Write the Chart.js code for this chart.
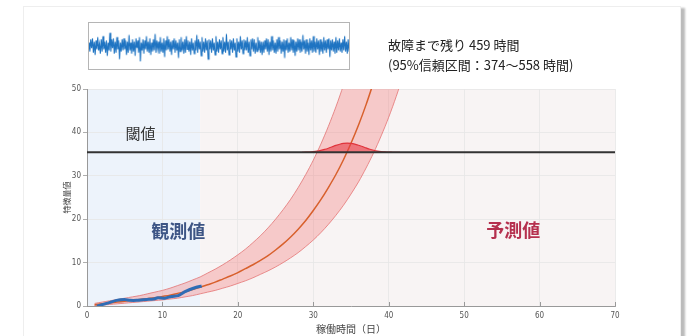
<!DOCTYPE html>
<html>
<head>
<meta charset="utf-8">
<script src="https://cdn.jsdelivr.net/npm/chart.js@4"></script>
<style>
  html, body { margin: 0; padding: 0; background: #fff; }
  body { width: 687px; height: 336px; position: relative; overflow: hidden; font-family: "Noto Sans CJK JP", "Noto Sans", sans-serif; }
  #card { position: absolute; left: 23px; top: 6px; width: 656px; height: 340px; border: 1px solid #eee; box-shadow: 4px 2px 2px #bbb; background: #fff; }
  #main { position: absolute; left: 0; top: 0; }
  #inset { position: absolute; left: 88px; top: 22px; border: 1px solid #b5b5b5; }
  .note { position: absolute; left: 388px; color: #222; font-size: 13px; white-space: nowrap; }
</style>
</head>
<body>
<div id="card"></div>
<canvas id="main" width="687" height="336"></canvas>
<canvas id="inset" width="262" height="48"></canvas>
<div class="note" style="top:35px;">故障まで残り 459 時間</div>
<div class="note" style="top:55px;">(95%信頼区間：374～558 時間)</div>
<script>
// ---- data ----
const X_TICKS = [0, 10, 20, 30, 40, 50, 60, 70];
const THRESHOLD = 35.4;

// observed feature value (days, value)
const obsX = [1.3, 2.6, 3.9, 5.0, 5.7, 6.6, 7.9, 8.8, 9.4, 10.3, 11.2, 12.1, 13.0, 14.1, 15.2];
const obsY = [0.0, 0.6, 1.3, 1.5, 1.3, 1.3, 1.5, 1.6, 1.9, 1.8, 2.2, 2.4, 3.3, 4.1, 4.6];

// predicted trend and 95% band
const predX = [1, 2, 3, 4, 5, 6, 7, 8, 9, 10, 11, 12, 13, 14, 15, 16, 17, 18, 19, 20, 21,
               22, 23, 24, 25, 26, 27, 28, 29, 30, 31, 32, 33, 34, 35, 36, 37, 38];
const predY = [0.3, 0.5, 0.7, 0.9, 1.1, 1.3, 1.5, 1.7, 1.9, 2.2, 2.5, 2.9, 3.3, 3.8, 4.3, 4.9, 5.5,
               6.2, 6.9, 7.7, 8.6, 9.5, 10.5, 11.6, 12.9, 14.3, 15.9, 17.7, 19.7, 22.0, 24.5, 27.3,
               30.3, 33.7, 37.5, 41.7, 46.4, 51.6];

const bandX = [1, 2, 3, 4, 5, 6, 7, 8, 9, 10, 11, 12, 13, 14, 15, 16, 17, 18, 19, 20, 21,
               22, 23, 24, 25, 26, 27, 28, 29, 30, 31, 32, 33, 34, 35, 36, 37, 38, 39, 40, 41, 42];
const bandUpper = [0.6, 0.9, 1.2, 1.5, 1.8, 2.1, 2.4, 2.8, 3.2, 3.6, 4.1, 4.7, 5.3, 6.0, 6.7, 7.6,
                   8.5, 9.5, 10.6, 11.8, 13.1, 14.6, 16.2, 18.0, 20.0, 22.2, 24.6, 27.3, 30.3, 33.6,
                   37.3, 41.4, 45.9, 50.9, 56.5, 62.7, 69.6, 77.3, 85.8, 95.2, 105.7, 117.3];
const bandLower = [0.1, 0.2, 0.35, 0.5, 0.65, 0.8, 0.95, 1.1, 1.25, 1.4, 1.6, 1.8, 2.1, 2.4, 2.8,
                   3.2, 3.6, 4.1, 4.6, 5.2, 5.8, 6.5, 7.3, 8.1, 9.0, 10.0, 11.1, 12.3, 13.7, 15.2,
                   16.9, 18.8, 20.9, 23.2, 25.8, 28.6, 31.8, 35.3, 39.2, 43.5, 48.3, 53.6];

// failure time distribution drawn on the threshold
const distX = [28.5, 29, 29.5, 30, 30.5, 31, 31.5, 32, 32.5, 33, 33.5, 34, 34.5, 35, 35.5, 36,
               36.5, 37, 37.5, 38, 38.5, 39, 39.5, 40, 40.5, 41, 41.5];
const distY = [35.42, 35.44, 35.48, 35.56, 35.68, 35.85, 36.08, 36.36, 36.68, 37.0, 37.28, 37.48,
               37.55, 37.48, 37.3, 37.04, 36.74, 36.42, 36.12, 35.88, 35.7, 35.58, 35.5, 35.45,
               35.43, 35.41, 35.4];

// vibration signal in the inset
const signal = [
  3,-5,6,-2,7,-6,4,-8,5,-3, 8,-4,2,-7,6,-5,9,-3,4,-6,
  5,-9,3,-4,12,-5,6,-2,7,-7, 4,-6,8,-3,5,-12,3,-5,6,-4,
  7,-3,5,-8,4,-6,10,-4,3,-7, 6,-5,4,-9,7,-2,5,-6,8,-14,
  3,-4,6,-7,5,-3,9,-5,4,-6, 7,-8,3,-5,6,-4,11,-6,5,-3,
  4,-7,8,-5,3,-6,7,-10,5,-4, 9,-3,6,-5,4,-8,5,-3,7,-6,
  5,-4,3,-11,6,-5,8,-4,4,-7, 6,-6,9,-3,5,-5,4,-8,7,-4,
  3,-7,5,-4,10,-6,6,-3,4,-9, 8,-5,4,-6,7,-4,5,-12,6,-3,
  5,-6,7,-4,3,-8,9,-5,4,-6, 6,-3,5,-7,8,-5,4,-6,11,-4,
  4,-8,6,-3,5,-6,7,-4,3,-10, 7,-5,4,-6,9,-3,5,-7,6,-4,
  5,-4,8,-6,4,-9,6,-3,7,-5, 6,-7,3,-5,8,-4,5,-6,4,-8,
  4,-6,5,-3,7,-5,6,-8,4,-5, 9,-4,5,-6,3,-7,6,-5,8,-3,
  5,-7,4,-5,6,-11,5,-4,7,-6, 3,-5,8,-4,6,-6,5,-9,4,-5,
  7,-4,6,-6,4,-5,10,-3,5,-7, 6,-5,3,-8,7,-4,5,-6,9,-5,
  4,-6,7,-3,5,-8,6,-5,4,-7, 8,-4,5,-6,6,-3,7,-10,5,-4,
  6,-5,4,-7,8,-6,5,-4,7,-5, 3,-6,6,-4,9,-5,4,-7,6,-5
];

const pts = (xs, ys) => xs.map((x, i) => ({ x: x, y: ys[i] }));

// ---- region backgrounds, inward x ticks, labels ----
const regionPlugin = {
  id: 'regions',
  beforeDraw(chart) {
    const { ctx, chartArea: a, scales: { x } } = chart;
    const split = x.getPixelForValue(15);
    ctx.save();
    ctx.fillStyle = '#edf3fb';
    ctx.fillRect(a.left, a.top, split - a.left, a.bottom - a.top);
    ctx.fillStyle = '#f8f4f4';
    ctx.fillRect(split, a.top, a.right - split, a.bottom - a.top);
    ctx.restore();
  },
  afterDraw(chart) {
    const { ctx, chartArea: a, scales: { x, y } } = chart;
    ctx.save();
    ctx.strokeStyle = '#999';
    ctx.lineWidth = 1;
    X_TICKS.forEach(v => {
      const px = Math.round(x.getPixelForValue(v)) + 0.5;
      ctx.beginPath();
      ctx.moveTo(px, a.bottom);
      ctx.lineTo(px, a.bottom - 4);
      ctx.stroke();
    });
    ctx.textAlign = 'center';
    ctx.textBaseline = 'middle';
    ctx.fillStyle = '#333';
    ctx.font = '15px "Noto Sans CJK JP"';
    ctx.fillText('閾値', x.getPixelForValue(7.1), y.getPixelForValue(39.8));
    ctx.font = 'bold 18px "Noto Sans CJK JP"';
    ctx.fillStyle = '#3d5585';
    ctx.fillText('観測値', x.getPixelForValue(12.1), y.getPixelForValue(17.3));
    ctx.fillStyle = '#b5304e';
    ctx.fillText('予測値', x.getPixelForValue(56.5), y.getPixelForValue(17.5));
    ctx.restore();
  }
};

const tickFont = { family: '"DejaVu Sans Condensed", "DejaVu Sans", sans-serif', size: 8 };

new Chart(document.getElementById('main'), {
  type: 'line',
  data: {
    datasets: [
      { // 0 threshold
        data: pts([0, 70], [THRESHOLD, THRESHOLD]),
        borderColor: '#333', borderWidth: 2, pointRadius: 0, order: 0
      },
      { // 1 failure distribution
        data: pts(distX, distY),
        borderColor: '#e0343c', borderWidth: 1.2, pointRadius: 0, tension: 0.3,
        backgroundColor: 'rgba(232,60,70,0.6)', fill: { value: THRESHOLD }, order: 1
      },
      { // 2 observed
        data: pts(obsX, obsY),
        borderColor: '#2f6db5', borderWidth: 3, pointRadius: 0, tension: 0.2, order: 2
      },
      { // 3 predicted
        data: pts(predX, predY),
        borderColor: '#d8602c', borderWidth: 1.5, pointRadius: 0, tension: 0.3, order: 3
      },
      { // 4 band upper, filled to lower
        data: pts(bandX, bandUpper),
        borderColor: '#e27373', borderWidth: 0.8, pointRadius: 0, tension: 0.3,
        backgroundColor: 'rgba(243,120,120,0.35)', fill: 5, order: 4
      },
      { // 5 band lower
        data: pts(bandX, bandLower),
        borderColor: '#e27373', borderWidth: 0.8, pointRadius: 0, tension: 0.3, order: 5
      }
    ]
  },
  options: {
    responsive: false,
    animation: false,
    devicePixelRatio: 1,
    layout: { padding: { left: 62, top: 89, right: 72, bottom: 1 } },
    plugins: { legend: { display: false }, tooltip: { enabled: false } },
    scales: {
      x: {
        type: 'linear', min: 0, max: 70,
        afterFit: s => { s.height = 29; },
        grid: { color: '#e6e6e6', lineWidth: 0.8, drawTicks: false },
        border: { color: '#999' },
        ticks: { stepSize: 10, color: '#555', font: tickFont, padding: 5, maxRotation: 0 },
        title: { display: true, text: '稼働時間（日）', color: '#444', padding: 0,
                 font: { family: '"Noto Sans CJK JP"', size: 10 } }
      },
      y: {
        min: 0, max: 50,
        afterFit: s => { s.width = 25; },
        grid: { color: '#e6e6e6', lineWidth: 0.8, tickLength: 4, tickColor: '#999' },
        border: { color: '#999' },
        ticks: { stepSize: 10, color: '#555', font: tickFont, padding: 2 },
        title: { display: true, text: '特徴量値', color: '#444', padding: 0,
                 font: { family: '"Noto Sans CJK JP"', size: 8 } }
      }
    }
  },
  plugins: [regionPlugin]
});

// ---- inset: raw vibration signal ----
new Chart(document.getElementById('inset'), {
  type: 'line',
  data: {
    labels: signal.map((_, i) => i),
    datasets: [{ data: signal, borderColor: '#1f74c2', borderWidth: 1.1, pointRadius: 0 }]
  },
  options: {
    responsive: false,
    animation: false,
    devicePixelRatio: 1,
    layout: { padding: 0 },
    plugins: { legend: { display: false }, tooltip: { enabled: false } },
    scales: {
      x: { display: false },
      y: { display: false, min: -21, max: 21 }
    }
  }
});
</script>
</body>
</html>
